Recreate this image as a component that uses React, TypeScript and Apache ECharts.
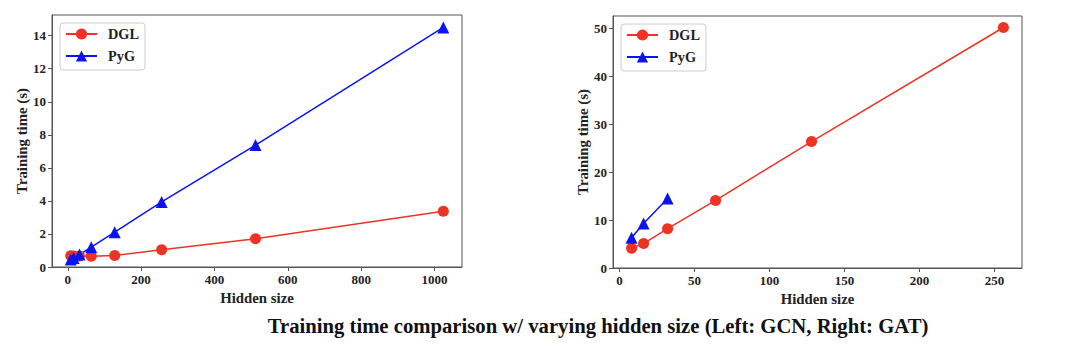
import React, { useEffect, useRef } from "react";
import * as echarts from "echarts";

// Left: GCN
const gcnHidden = [8, 16, 32, 64, 128, 256, 512, 1024];
const gcnDGL = [0.68, 0.67, 0.66, 0.65, 0.7, 1.04, 1.71, 3.38];
const gcnPyG = [0.45, 0.55, 0.75, 1.2, 2.11, 3.94, 7.38, 14.5];
const gcnXTicks = [0, 200, 400, 600, 800, 1000];
const gcnYTicks = [0, 2, 4, 6, 8, 10, 12, 14];

// Right: GAT
const gatHidden = [8, 16, 32, 64, 128, 256];
const gatDGL = [4.1, 5.1, 8.2, 14.1, 26.4, 50.2];
const gatPyGHidden = [8, 16, 32];
const gatPyG = [6.3, 9.3, 14.5];
const gatXTicks = [0, 50, 100, 150, 200, 250];
const gatYTicks = [0, 10, 20, 30, 40, 50];

const seriesNames = ["DGL", "PyG"];
const titleText = "Training time comparison w/ varying hidden size (Left: GCN, Right: GAT)";

const RED = "#ec3324";
const BLUE = "#0a14f0";
const FONT = "Liberation Serif";

function pairs(xs: number[], ys: number[]) {
  return xs.map((x, i) => [x, ys[i]]);
}

export default function App() {
  const ref = useRef<HTMLDivElement>(null);
  useEffect(() => {
    if (!ref.current) return;
    const chart = echarts.init(ref.current, undefined, { renderer: "svg" });
    const axisLabel = {
      color: "#222",
      fontFamily: FONT,
      fontWeight: "bold",
      fontSize: 13,
      margin: 6,
      formatter: (v: number) => String(v),
    };
    const axisLine = { show: true, lineStyle: { color: "#555", width: 1 } };
    const axisTick = { show: true, length: 4, lineStyle: { color: "#555" } };
    const nameStyle = { color: "#222", fontFamily: FONT, fontWeight: "bold", fontSize: 14.8 };
    const mkX = (idx: number, min: number, max: number, ticks: number[]) => ({
      type: "value",
      gridIndex: idx,
      min,
      max,
      name: "Hidden size",
      nameLocation: "middle",
      nameGap: 20,
      nameTextStyle: nameStyle,
      axisLine: { ...axisLine, onZero: false },
      axisTick: { ...axisTick, customValues: ticks },
      axisLabel: { ...axisLabel, customValues: ticks },
      splitLine: { show: false },
    });
    const mkY = (idx: number, min: number, max: number, ticks: number[]) => ({
      type: "value",
      gridIndex: idx,
      min,
      max,
      name: "Training time (s)",
      nameLocation: "middle",
      nameGap: 22,
      nameTextStyle: nameStyle,
      axisLine: { ...axisLine, onZero: false },
      axisTick: { ...axisTick, customValues: ticks },
      axisLabel: { ...axisLabel, customValues: ticks },
      splitLine: { show: false },
    });
    const legendCommon = {
      orient: "vertical",
      data: seriesNames,
      itemWidth: 31,
      itemHeight: 14,
      itemGap: 8,
      padding: [4, 6, 7, 5],
      borderColor: "#ccc",
      borderWidth: 1,
      borderRadius: 3,
      backgroundColor: "#fff",
      textStyle: { color: "#222", fontFamily: FONT, fontWeight: "bold", fontSize: 14.3, padding: [0, 0, 0, 6] },
      selectedMode: false,
    };
    const circle = { symbol: "circle", symbolSize: 11 };
    const tri = { symbol: "triangle", symbolSize: 12 };
    chart.setOption({
      animation: false,
      backgroundColor: "#fff",
      textStyle: { fontFamily: FONT },
      graphic: [
        {
          type: "text",
          x: 598,
          y: 326,
          style: {
            text: titleText,
            align: "center",
            verticalAlign: "middle",
            font: "bold 20.7px 'Liberation Serif'",
            fill: "#111",
          },
        },
      ],
      grid: [
        { left: 52, top: 15, width: 410, height: 252, show: true, borderColor: "#555", borderWidth: 1 },
        { left: 613, top: 16, width: 409, height: 252, show: true, borderColor: "#555", borderWidth: 1 },
      ],
      xAxis: [mkX(0, -43, 1075, gcnXTicks), mkX(1, -4.4, 268.4, gatXTicks)],
      yAxis: [mkY(0, 0, 15.25, gcnYTicks), mkY(1, 0, 52.6, gatYTicks)],
      legend: [
        { ...legendCommon, left: 60, top: 23 },
        { ...legendCommon, left: 621, top: 24 },
      ],
      series: [
        { name: "DGL", type: "line", xAxisIndex: 0, yAxisIndex: 0, data: pairs(gcnHidden, gcnDGL), ...circle, color: RED, lineStyle: { color: RED, width: 1.5 }, itemStyle: { color: RED } },
        { name: "PyG", type: "line", xAxisIndex: 0, yAxisIndex: 0, data: pairs(gcnHidden, gcnPyG), ...tri, color: BLUE, lineStyle: { color: BLUE, width: 1.5 }, itemStyle: { color: BLUE } },
        { name: "DGL", type: "line", xAxisIndex: 1, yAxisIndex: 1, data: pairs(gatHidden, gatDGL), ...circle, color: RED, lineStyle: { color: RED, width: 1.5 }, itemStyle: { color: RED } },
        { name: "PyG", type: "line", xAxisIndex: 1, yAxisIndex: 1, data: pairs(gatPyGHidden, gatPyG), ...tri, color: BLUE, lineStyle: { color: BLUE, width: 1.5 }, itemStyle: { color: BLUE } },
      ],
    });
    return () => chart.dispose();
  }, []);
  return <div ref={ref} style={{ position: "fixed", left: 0, top: 0, width: 1080, height: 358 }} />;
}
